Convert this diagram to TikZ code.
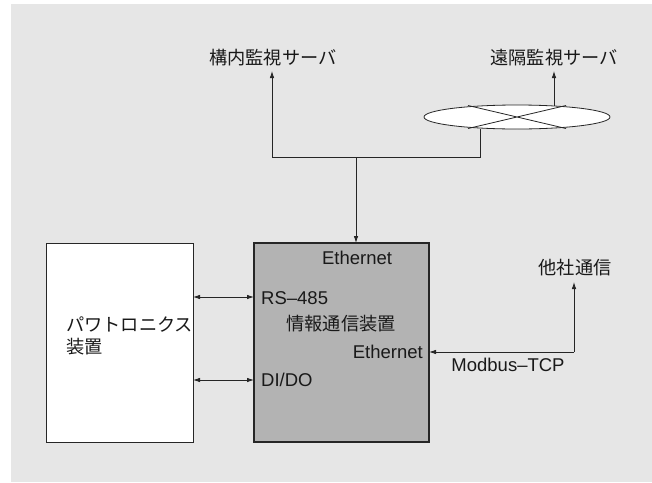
\documentclass[tikz,border=0pt]{standalone}
\usepackage{fontspec}
\setmainfont{Liberation Sans}
\newfontfamily\jp{Noto Sans CJK JP}
\usetikzlibrary{arrows.meta,shapes.geometric}
\definecolor{bgray}{HTML}{E6E6E6}
\definecolor{boxgray}{HTML}{B3B3B3}
\tikzset{
  conn/.style={line width=0.8pt, draw=black!85},
  tip/.style={-{Latex[length=7pt,width=4.5pt]}},
  both/.style={{Latex[length=7pt,width=4.5pt]}-{Latex[length=7pt,width=4.5pt]}},
  lbl/.style={font=\fontsize{18.5}{21}\selectfont, inner sep=0pt, text=black!90},
  jlbl/.style={font=\fontsize{18.2}{22}\selectfont\jp, inner sep=0pt, text=black!90},
}
\begin{document}
\begin{tikzpicture}[x=1pt,y=-1pt]
\useasboundingbox (0,0) rectangle (652,482);
% background panel
\fill[bgray] (11,4) rectangle (652,482);

% equipment blocks
\draw[conn, fill=white] (46,243) rectangle (193,442);
\draw[line width=1.1pt, draw=black!85, fill=boxgray] (254,243) rectangle (429,442);
\coordinate (box-top) at (356,243);
\coordinate (box-rs) at (254,297);
\coordinate (box-dio) at (254,380);
\coordinate (box-eth) at (429,352);
\coordinate (pe-rs) at (193,297);
\coordinate (pe-dio) at (193,380);

% texts inside blocks
\node[jlbl, anchor=west, align=left] (petext) at (66,336) {パワトロニクス\\装置};
\node[lbl] (ethtop) at (357,258) {Ethernet};
\node[lbl, anchor=west] (rs) at (261,298) {RS–485};
\node[jlbl] (info) at (341,324) {情報通信装置};
\node[lbl, anchor=east] (ethr) at (423,352) {Ethernet};
\node[lbl, anchor=west] (dio) at (261,380) {DI/DO};

% wide-area network cloud
\node[draw, conn, fill=white, ellipse, minimum width=186pt, minimum height=24pt, inner sep=0pt] (wan) at (517,117) {};
\coordinate (x1) at (468,105.5);
\coordinate (x2) at (566,128.5);
\coordinate (x3) at (468,128.5);
\coordinate (x4) at (566,105.5);
\draw[conn] (x1) -- (x2) (x3) -- (x4);

% server labels
\node[jlbl] (local) at (273,58) {構内監視サーバ};
\node[jlbl] (remote) at (554,58) {遠隔監視サーバ};
\node[jlbl] (other) at (575,268) {他社通信};
\node[lbl] (modbus) at (508,365) {Modbus–TCP};

% network trunk
\coordinate (wanfoot) at (480,128.7);
\coordinate (jr) at (480,157);
\coordinate (jl) at (272,157);
\coordinate (jm) at (356,157);
\coordinate (localfoot) at (272,71);
\coordinate (remotefoot) at (554,71);
\coordinate (wantop) at (554,105.6);
\draw[conn] (wanfoot) -- (jr) -- (jl);
\draw[conn, tip] (jl) -- (localfoot);
\draw[conn, tip] (jm) -- (box-top);
\draw[conn, tip] (wantop) -- (remotefoot);

% serial and I/O links
\draw[conn, both] (pe-rs) -- (box-rs);
\draw[conn, both] (pe-dio) -- (box-dio);

% third-party link
\coordinate (oc) at (574,352);
\coordinate (otherfoot) at (574,282);
\draw[conn, tip] (oc) -- (otherfoot);
\draw[conn, tip] (oc) -- (box-eth);
\end{tikzpicture}
\end{document}
